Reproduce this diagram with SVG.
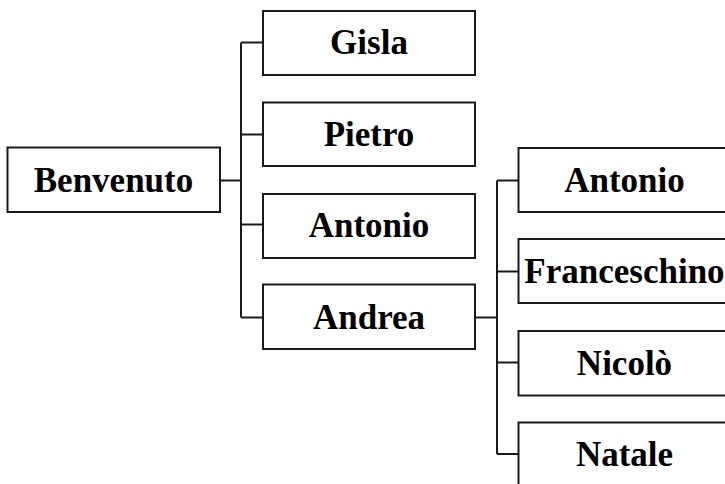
<svg xmlns="http://www.w3.org/2000/svg" width="725" height="484" viewBox="0 0 725 484">
<style>
.box{fill:#fff;stroke:#1a1a1a;stroke-width:2}
.lbl{font-family:"Liberation Serif","Times New Roman",serif;font-weight:bold;font-size:35px;text-anchor:middle;fill:#000}
.conn{fill:none;stroke:#1a1a1a;stroke-width:2}
</style>
<rect width="725" height="484" fill="#fff"/>
<g id="connectors">
<path class="conn" d="M220,180.5 H241 M241,42.5 V317.5 M241,42.5 H263 M241,134.5 H263 M241,224.5 H263 M241,317.5 H263"/>
<path class="conn" d="M475,317.5 H497 M497,180.5 V454 M497,180.5 H518 M497,271.5 H518 M497,362.5 H518 M497,454 H518"/>
</g>
<g id="benvenuto"><rect class="box" x="7.5" y="147.5" width="212.5" height="64.5"/><text class="lbl" x="113.5" y="192">Benvenuto</text></g>
<g id="gisla"><rect class="box" x="263" y="11" width="212" height="64"/><text class="lbl" x="369" y="54">Gisla</text></g>
<g id="pietro"><rect class="box" x="263" y="102.5" width="212" height="63.5"/><text class="lbl" x="369" y="146">Pietro</text></g>
<g id="antonio1"><rect class="box" x="263" y="194" width="212" height="64"/><text class="lbl" x="369" y="237">Antonio</text></g>
<g id="andrea"><rect class="box" x="263" y="284.5" width="212" height="64.5"/><text class="lbl" x="369" y="328.5">Andrea</text></g>
<g id="antonio2"><rect class="box" x="518.5" y="148" width="212" height="64"/><text class="lbl" x="624.5" y="192">Antonio</text></g>
<g id="franceschino"><rect class="box" x="518.5" y="239" width="212" height="64"/><text class="lbl" x="624.5" y="283">Franceschino</text></g>
<g id="nicolo"><rect class="box" x="518.5" y="331" width="212" height="64.5"/><text class="lbl" x="624.5" y="374.5">Nicolò</text></g>
<g id="natale"><rect class="box" x="518.5" y="422.5" width="212" height="64"/><text class="lbl" x="624.5" y="466">Natale</text></g>
</svg>
